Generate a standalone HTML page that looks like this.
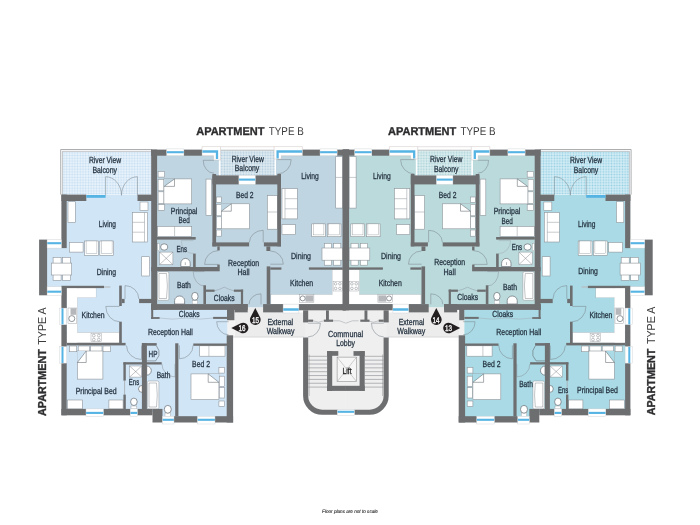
<!DOCTYPE html>
<html><head><meta charset="utf-8"><title>Floor plan</title>
<style>
html,body{margin:0;padding:0;background:#fff;}
body{width:700px;height:525px;overflow:hidden;font-family:"Liberation Sans",sans-serif;}
svg{display:block;font-family:"Liberation Sans",sans-serif;will-change:transform;}
text{text-rendering:geometricPrecision;}
</style></head><body>
<svg width="700" height="525" viewBox="0 0 700 525">
<rect width="700" height="525" fill="#fff"/>
<defs>
<pattern id="tAL" x="62.6" y="151.5" width="2.72" height="2.72" patternUnits="userSpaceOnUse"><rect width="2.72" height="2.72" fill="#f8fcfe"/><rect x="0.39" y="0.39" width="1.94" height="1.94" fill="#c1dcf2"/></pattern>
<pattern id="tBL" x="62.6" y="151.5" width="2.72" height="2.72" patternUnits="userSpaceOnUse"><rect width="2.72" height="2.72" fill="#f3f8fb"/><rect x="0.39" y="0.39" width="1.94" height="1.94" fill="#b0cbdc"/></pattern>
<pattern id="tAR" x="62.6" y="151.5" width="2.72" height="2.72" patternUnits="userSpaceOnUse"><rect width="2.72" height="2.72" fill="#eff9fd"/><rect x="0.39" y="0.39" width="1.94" height="1.94" fill="#93cfe3"/></pattern>
<pattern id="tBR" x="62.6" y="151.5" width="2.72" height="2.72" patternUnits="userSpaceOnUse"><rect width="2.72" height="2.72" fill="#f1f9f9"/><rect x="0.39" y="0.39" width="1.94" height="1.94" fill="#a9d1d7"/></pattern>
</defs>
<g id="left"><path d="M64,194.6 H154 V306 H227.6 V420 H155 V412 H64 V291 H43 V242 H64 Z" fill="#d0e5f6"/>
<path d="M154,152 H345.9 V307.6 H154 Z" fill="#bfd5e1"/>
<rect x="60.30" y="149.10" width="91.70" height="45.50" fill="#fff" />
<rect x="62.60" y="151.50" width="89.40" height="43.10" fill="url(#tAL)" />
<path d="M60.7,194.6 V149.5 H152" fill="none" stroke="#97999c" stroke-width="0.8" />
<path d="M62.4,194.6 V151.3 H152" fill="none" stroke="#9d9fa2" stroke-width="0.6" />
<rect x="218.80" y="146.60" width="57.20" height="29.40" fill="#fff" />
<rect x="220.40" y="150.60" width="54.30" height="25.00" fill="url(#tBL)" />
<line x1="220.40" y1="150.20" x2="274.70" y2="150.20" stroke="#a4a6a9" stroke-width="0.7"/>
<line x1="220.40" y1="146.70" x2="274.20" y2="146.70" stroke="#c3b6b2" stroke-width="0.4"/>
<path d="M234.6,312.4 H247.6 V307.6 H263.2 V312.4 H306 V337 H234.6 Z" fill="#ececec"/><rect x="227.6" y="319.6" width="7.0" height="17.4" fill="#f2f2f2"/>
<line x1="233.00" y1="337.10" x2="304.00" y2="337.10" stroke="#c4c6c8" stroke-width="0.6"/>
<path d="M305,310 H345.9 V413 H322 A16.5,16.5 0 0 1 305,396 Z" fill="#efefef"/>
<path d="M308.1,323 H320.3 A12.2,13.8 0 0 1 308.1,336.8 Z" fill="#efefef"/>
<rect x="66.70" y="288.00" width="29.30" height="9.50" fill="#fff" stroke="#8e949a" stroke-width="0.3"/>
<rect x="66.70" y="288.00" width="10.70" height="54.90" fill="#fff" stroke="#8e949a" stroke-width="0.3"/>
<rect x="66.70" y="332.40" width="52.60" height="10.50" fill="#fff" stroke="#8e949a" stroke-width="0.3"/>
<rect x="67.00" y="288.30" width="10.20" height="54.30" fill="#fff" />
<rect x="67.00" y="288.30" width="28.80" height="9.00" fill="#fff" />
<rect x="271.00" y="294.60" width="72.00" height="9.50" fill="#fff" stroke="#8e949a" stroke-width="0.3"/>
<rect x="332.40" y="269.60" width="10.60" height="34.50" fill="#fff" stroke="#8e949a" stroke-width="0.3"/>
<rect x="332.60" y="269.80" width="10.40" height="34.10" fill="#fff" />
<rect x="271.20" y="294.80" width="71.80" height="9.10" fill="#fff" />
<rect x="68.00" y="201.70" width="7.30" height="20.80" fill="#fff" stroke="#8e949a" stroke-width="0.6"/>
<rect x="132.50" y="212.50" width="15.00" height="29.50" fill="#fff" stroke="#8e949a" stroke-width="0.6"/>
<line x1="144.50" y1="212.50" x2="144.50" y2="242.00" stroke="#8e949a" stroke-width="0.5"/>
<line x1="132.50" y1="222.30" x2="144.50" y2="222.30" stroke="#8e949a" stroke-width="0.5"/>
<line x1="132.50" y1="232.20" x2="144.50" y2="232.20" stroke="#8e949a" stroke-width="0.5"/>
<rect x="140.00" y="202.00" width="8.00" height="8.50" fill="#fff" stroke="#8e949a" stroke-width="0.6"/>
<rect x="69.30" y="242.40" width="13.80" height="9.70" fill="#fff" stroke="#8e949a" stroke-width="0.6"/>
<rect x="84.60" y="241.00" width="13.80" height="14.30" fill="#fff" stroke="#8e949a" stroke-width="0.6"/>
<rect x="86.10" y="241.00" width="10.80" height="12.30" fill="#fff" stroke="#8e949a" stroke-width="0.4"/>
<rect x="99.80" y="241.00" width="13.80" height="14.30" fill="#fff" stroke="#8e949a" stroke-width="0.6"/>
<rect x="101.30" y="241.00" width="10.80" height="12.30" fill="#fff" stroke="#8e949a" stroke-width="0.4"/>
<rect x="53.10" y="257.40" width="8.00" height="6.60" fill="#fff" stroke="#8e949a" stroke-width="0.6"/>
<rect x="53.10" y="274.00" width="8.00" height="6.30" fill="#fff" stroke="#8e949a" stroke-width="0.6"/>
<rect x="62.60" y="257.40" width="8.00" height="6.60" fill="#fff" stroke="#8e949a" stroke-width="0.6"/>
<rect x="62.60" y="274.00" width="8.00" height="6.30" fill="#fff" stroke="#8e949a" stroke-width="0.6"/>
<rect x="51.40" y="263.10" width="20.30" height="11.90" fill="#fff" stroke="#8e949a" stroke-width="0.6"/>
<rect x="141.70" y="256.70" width="7.90" height="19.30" fill="#fff" stroke="#8e949a" stroke-width="0.6"/>
<rect x="70.50" y="308.30" width="5.50" height="6.50" fill="#b5b7ba" />
<rect x="68.00" y="308.00" width="8.80" height="15.50" fill="none" stroke="#8e949a" stroke-width="0.4"/>
<circle cx="71.8" cy="318.6" r="3" fill="#fff" stroke="#646b72" stroke-width="0.7"/>
<rect x="91.00" y="333.40" width="10.70" height="8.20" fill="#fff" stroke="#8e949a" stroke-width="0.4"/>
<circle cx="93.8" cy="335.6" r="1.4" fill="none" stroke="#646b72" stroke-width="0.4"/>
<circle cx="98.8" cy="335.6" r="1.4" fill="none" stroke="#646b72" stroke-width="0.4"/>
<circle cx="93.8" cy="339.6" r="1.4" fill="none" stroke="#646b72" stroke-width="0.4"/>
<circle cx="98.8" cy="339.6" r="1.4" fill="none" stroke="#646b72" stroke-width="0.4"/>
<rect x="69.60" y="346.00" width="7.10" height="5.70" fill="#fff" stroke="#8e949a" stroke-width="0.6"/>
<rect x="103.00" y="346.00" width="7.30" height="5.70" fill="#fff" stroke="#8e949a" stroke-width="0.6"/>
<rect x="78.20" y="346.00" width="11.40" height="5.40" fill="#fff" stroke="#8e949a" stroke-width="0.6"/>
<rect x="90.60" y="346.00" width="11.40" height="5.40" fill="#fff" stroke="#8e949a" stroke-width="0.6"/>
<rect x="77.40" y="351.00" width="25.50" height="28.10" fill="#fff" stroke="#8e949a" stroke-width="0.6"/>
<path d="M77.4,351 H86.2 L77.4,362.5 Z" fill="#d0e5f6" stroke="none" stroke-width="0.5" />
<path d="M77.4,362.5 L86.2,351 M77.4,362.5 H86.2 V351" fill="none" stroke="#6f757b" stroke-width="0.6" />
<rect x="67.40" y="400.00" width="15.00" height="8.90" fill="#fff" stroke="#8e949a" stroke-width="0.6"/>
<rect x="108.90" y="400.00" width="14.20" height="8.90" fill="#fff" stroke="#8e949a" stroke-width="0.6"/>
<rect x="129.60" y="366.00" width="12.10" height="11.10" fill="#fff" stroke="#8e949a" stroke-width="0.5"/>
<path d="M129.6,366 L141.7,377.1 M141.7,366 L129.6,377.1" fill="none" stroke="#646b72" stroke-width="0.4" />
<path d="M142.4,385.3 A3.9,3.6 0 0 0 142.4,392.5 Z" fill="#fff" stroke="#646b72" stroke-width="0.7" />
<rect x="131.00" y="406.00" width="5.80" height="2.90" fill="#fff" stroke="#8e949a" stroke-width="0.4"/>
<ellipse cx="133.9" cy="401.8" rx="3.3" ry="3.7" fill="#fff" stroke="#646b72" stroke-width="0.7"/>
<path d="M146.7,366 A4.6,4.6 0 0 1 146.7,375.2 Z" fill="#fff" stroke="#646b72" stroke-width="0.7" />
<rect x="147.40" y="381.00" width="11.50" height="27.90" fill="#fff" stroke="#8e949a" stroke-width="0.5" rx="1.5"/>
<path d="M149,383 H156.5 Q158,395 156.5,407 H149 Z" fill="#fff" stroke="#646b72" stroke-width="0.4" />
<rect x="165.00" y="413.00" width="5.60" height="3.20" fill="#fff" stroke="#8e949a" stroke-width="0.4"/>
<ellipse cx="167.8" cy="409.3" rx="3.5" ry="3.9" fill="#fff" stroke="#646b72" stroke-width="0.7"/>
<path d="M146.9,345.4 H156.2 L158.9,350.5 V355.8 L155.6,360.9 H146.9" fill="none" stroke="#646b72" stroke-width="0.6" />
<rect x="199.70" y="345.80" width="25.30" height="10.40" fill="#fff" stroke="#8e949a" stroke-width="0.6"/>
<line x1="208.90" y1="345.80" x2="208.90" y2="356.20" stroke="#8e949a" stroke-width="0.5"/>
<rect x="218.90" y="367.40" width="5.70" height="5.70" fill="#fff" stroke="#8e949a" stroke-width="0.6"/>
<rect x="218.90" y="401.00" width="5.70" height="5.30" fill="#fff" stroke="#8e949a" stroke-width="0.6"/>
<rect x="219.20" y="376.20" width="5.40" height="10.40" fill="#fff" stroke="#8e949a" stroke-width="0.6"/>
<rect x="219.20" y="387.60" width="5.40" height="10.40" fill="#fff" stroke="#8e949a" stroke-width="0.6"/>
<rect x="191.00" y="373.90" width="27.90" height="25.70" fill="#fff" stroke="#8e949a" stroke-width="0.6"/>
<path d="M208.2,373.9 H218.9 V382.3 Z" fill="#d0e5f6" stroke="none" stroke-width="0.5" />
<path d="M208.2,373.9 L218.9,382.3 M208.2,373.9 V382.3 H218.9" fill="none" stroke="#6f757b" stroke-width="0.6" />
<rect x="158.10" y="171.40" width="6.50" height="5.70" fill="#fff" stroke="#8e949a" stroke-width="0.6"/>
<rect x="158.10" y="204.60" width="6.50" height="5.70" fill="#fff" stroke="#8e949a" stroke-width="0.6"/>
<rect x="158.10" y="179.30" width="5.90" height="11.50" fill="#fff" stroke="#8e949a" stroke-width="0.6"/>
<rect x="158.10" y="191.80" width="5.90" height="11.70" fill="#fff" stroke="#8e949a" stroke-width="0.6"/>
<rect x="163.90" y="178.90" width="27.80" height="25.00" fill="#fff" stroke="#8e949a" stroke-width="0.6"/>
<path d="M164.2,178.9 H174.5 L164.2,186.4 Z" fill="#bfd5e1" stroke="none" stroke-width="0.5" />
<path d="M164.2,186.4 L174.5,178.9 M164.2,186.4 H174.5 V178.9" fill="none" stroke="#6f757b" stroke-width="0.6" />
<rect x="206.00" y="179.10" width="5.70" height="36.20" fill="#fff" stroke="#8e949a" stroke-width="0.6"/>
<rect x="157.40" y="226.40" width="34.30" height="10.00" fill="#fff" stroke="#8e949a" stroke-width="0.6"/>
<line x1="174.60" y1="226.40" x2="174.60" y2="236.40" stroke="#8e949a" stroke-width="0.5"/>
<rect x="157.30" y="243.40" width="2.30" height="7.40" fill="#fff" stroke="#8e949a" stroke-width="0.4"/>
<ellipse cx="164.2" cy="247" rx="3.6" ry="3.2" fill="#fff" stroke="#646b72" stroke-width="0.7"/>
<rect x="159.60" y="252.10" width="13.30" height="12.50" fill="#fff" stroke="#8e949a" stroke-width="0.5"/>
<path d="M159.6,252.1 L172.9,264.6 M172.9,252.1 L159.6,264.6" fill="none" stroke="#646b72" stroke-width="0.4" />
<path d="M180.8,266.6 V263.4 A4.7,5 0 0 1 190.2,263.4 V266.6 Z" fill="#fff" stroke="#646b72" stroke-width="0.7" />
<line x1="185.30" y1="262.30" x2="185.30" y2="265.00" stroke="#646b72" stroke-width="0.5"/>
<rect x="157.40" y="271.70" width="11.50" height="28.60" fill="#fff" stroke="#8e949a" stroke-width="0.5" rx="1.5"/>
<path d="M159,273.5 H166.5 Q168.3,286 166.5,298.5 H159 Z" fill="#fff" stroke="#646b72" stroke-width="0.4" />
<path d="M174.6,304 V300.6 A5,4.6 0 0 1 184.6,300.6 V304 Z" fill="#fff" stroke="#646b72" stroke-width="0.7" />
<rect x="192.20" y="300.50" width="5.40" height="3.50" fill="#fff" stroke="#8e949a" stroke-width="0.4"/>
<ellipse cx="194.9" cy="296.3" rx="3.2" ry="3.9" fill="#fff" stroke="#646b72" stroke-width="0.7"/>
<rect x="216.30" y="197.00" width="5.00" height="5.50" fill="#fff" stroke="#8e949a" stroke-width="0.6"/>
<rect x="216.30" y="230.00" width="5.00" height="6.20" fill="#fff" stroke="#8e949a" stroke-width="0.6"/>
<rect x="216.30" y="204.30" width="5.00" height="11.50" fill="#fff" stroke="#8e949a" stroke-width="0.6"/>
<rect x="216.30" y="216.80" width="5.00" height="11.50" fill="#fff" stroke="#8e949a" stroke-width="0.6"/>
<rect x="221.30" y="203.80" width="28.00" height="25.00" fill="#fff" stroke="#8e949a" stroke-width="0.6"/>
<path d="M221.3,203.8 H231.3 L221.3,211.2 Z" fill="#bfd5e1" stroke="none" stroke-width="0.5" />
<path d="M221.3,211.2 L231.3,203.8 M221.3,211.2 H231.3 V203.8" fill="none" stroke="#6f757b" stroke-width="0.6" />
<rect x="267.30" y="195.60" width="10.00" height="33.60" fill="#fff" stroke="#8e949a" stroke-width="0.6"/>
<line x1="267.30" y1="212.00" x2="277.30" y2="212.00" stroke="#8e949a" stroke-width="0.5"/>
<rect x="282.00" y="188.60" width="15.40" height="30.30" fill="#fff" stroke="#8e949a" stroke-width="0.6"/>
<line x1="285.00" y1="188.60" x2="285.00" y2="218.90" stroke="#8e949a" stroke-width="0.5"/>
<line x1="285.00" y1="198.70" x2="297.40" y2="198.70" stroke="#8e949a" stroke-width="0.5"/>
<line x1="285.00" y1="208.80" x2="297.40" y2="208.80" stroke="#8e949a" stroke-width="0.5"/>
<rect x="282.00" y="224.60" width="13.30" height="10.00" fill="#fff" stroke="#8e949a" stroke-width="0.6"/>
<rect x="311.70" y="223.90" width="13.70" height="12.80" fill="#fff" stroke="#8e949a" stroke-width="0.6"/>
<rect x="313.20" y="223.90" width="10.70" height="11.00" fill="#fff" stroke="#8e949a" stroke-width="0.4"/>
<rect x="327.30" y="223.90" width="13.70" height="12.80" fill="#fff" stroke="#8e949a" stroke-width="0.6"/>
<rect x="328.80" y="223.90" width="10.70" height="11.00" fill="#fff" stroke="#8e949a" stroke-width="0.4"/>
<rect x="324.30" y="243.30" width="7.20" height="5.70" fill="#fff" stroke="#8e949a" stroke-width="0.6"/>
<rect x="324.30" y="259.30" width="7.20" height="5.90" fill="#fff" stroke="#8e949a" stroke-width="0.6"/>
<rect x="333.60" y="243.30" width="7.20" height="5.70" fill="#fff" stroke="#8e949a" stroke-width="0.6"/>
<rect x="333.60" y="259.30" width="7.20" height="5.90" fill="#fff" stroke="#8e949a" stroke-width="0.6"/>
<rect x="322.00" y="248.00" width="20.70" height="12.20" fill="#fff" stroke="#8e949a" stroke-width="0.6"/>
<rect x="335.70" y="156.70" width="7.00" height="51.40" fill="#fff" stroke="#8e949a" stroke-width="0.6"/>
<line x1="335.70" y1="177.40" x2="342.70" y2="177.40" stroke="#8e949a" stroke-width="0.5"/>
<rect x="333.10" y="281.30" width="9.30" height="9.70" fill="#fff" stroke="#8e949a" stroke-width="0.4"/>
<circle cx="335.6" cy="283.8" r="1.3" fill="none" stroke="#646b72" stroke-width="0.4"/>
<circle cx="339.9" cy="283.8" r="1.3" fill="none" stroke="#646b72" stroke-width="0.4"/>
<circle cx="335.6" cy="288.4" r="1.3" fill="none" stroke="#646b72" stroke-width="0.4"/>
<circle cx="339.9" cy="288.4" r="1.3" fill="none" stroke="#646b72" stroke-width="0.4"/>
<rect x="299.60" y="294.60" width="14.30" height="7.80" fill="#fff" stroke="#8e949a" stroke-width="0.4"/>
<rect x="305.50" y="295.40" width="7.90" height="6.20" fill="#b5b7ba" />
<circle cx="302.7" cy="298.4" r="2.5" fill="#fff" stroke="#646b72" stroke-width="0.7"/>
<path d="M105.60,195.30 L105.60,176.70 A15.90,18.60 0 0 1 121.50,195.30" fill="none" stroke="#7d8790" stroke-width="0.55"/>
<path d="M137.40,195.30 L137.40,176.70 A15.90,18.60 0 0 0 121.50,195.30" fill="none" stroke="#7d8790" stroke-width="0.55"/>
<path d="M125.00,298.90 L125.00,285.60 A13.80,13.30 0 0 1 138.80,298.90" fill="none" stroke="#7d8790" stroke-width="0.55"/>
<path d="M119.50,306.40 L105.80,306.40 A13.70,15.30 0 0 0 119.50,321.70" fill="none" stroke="#7d8790" stroke-width="0.55"/>
<path d="M141.50,345.60 L141.50,359.50 A15.00,13.90 0 0 1 126.50,345.60" fill="none" stroke="#7d8790" stroke-width="0.55"/>
<line x1="124.60" y1="380.60" x2="124.60" y2="394.60" stroke="#a9b0b7" stroke-width="0.9"/>
<path d="M175.00,363.90 L175.00,376.90 A13.10,13.00 0 0 1 161.90,363.90" fill="none" stroke="#8d98a2" stroke-width="0.55"/>
<path d="M179.40,345.30 L179.40,358.80 A13.70,13.50 0 0 0 193.10,345.30" fill="none" stroke="#7d8790" stroke-width="0.55"/>
<path d="M228.60,321.70 L216.70,321.70 A11.90,13.10 0 0 0 228.60,334.80" fill="none" stroke="#7d8790" stroke-width="0.55"/>
<path d="M159.6,318 Q172,320.3 186.3,318 Q200,320.3 213.1,318" fill="none" stroke="#a4adb6" stroke-width="0.5" />
<path d="M214.00,160.30 L203.20,160.30 A10.80,12.90 0 0 0 214.00,173.20" fill="none" stroke="#7d8790" stroke-width="0.55"/>
<path d="M277.40,159.60 L291.20,159.60 A13.80,14.30 0 0 1 277.40,173.90" fill="none" stroke="#7d8790" stroke-width="0.55"/>
<path d="M193.30,240.60 L181.20,240.60 A12.10,13.00 0 0 0 193.30,253.60" fill="none" stroke="#9aa5af" stroke-width="0.45"/>
<path d="M218.40,264.40 L204.60,264.40 A13.80,13.80 0 0 1 218.40,250.60" fill="none" stroke="#7d8790" stroke-width="0.55"/>
<path d="M204.40,271.60 L193.20,271.60 A11.20,14.40 0 0 0 204.40,286.00" fill="none" stroke="#8d98a2" stroke-width="0.55"/>
<path d="M263.20,242.40 L263.20,230.30 A13.80,12.10 0 0 0 249.40,242.40" fill="none" stroke="#7d8790" stroke-width="0.55"/>
<path d="M270.30,264.20 L283.30,264.20 A13.00,13.20 0 0 0 270.30,251.00" fill="none" stroke="#7d8790" stroke-width="0.55"/>
<path d="M214.6,290.8 Q219.5,289.6 224.3,287.2 Q229,289.6 233.9,290.8" fill="none" stroke="#8d98a2" stroke-width="0.5" />
<path d="M261.00,304.40 L261.00,293.80 A12.00,10.60 0 0 0 249.00,304.40" fill="none" stroke="#7d8790" stroke-width="0.55"/>
<path d="M308.10,323.20 L320.40,323.20 A12.30,13.70 0 0 1 308.10,336.90" fill="none" stroke="#7d8790" stroke-width="0.55"/>
<path d="M313.1,320.8 L318.5,322.2 L323.9,320.8" fill="none" stroke="#9a9fa4" stroke-width="0.5" />
<path d="M333.1,320.8 L339.5,320.8 L345.9,323.2" fill="none" stroke="#9a9fa4" stroke-width="0.5" />
<line x1="308.30" y1="356.30" x2="327.10" y2="356.30" stroke="#aaacaf" stroke-width="0.9"/>
<line x1="308.30" y1="360.15" x2="327.10" y2="360.15" stroke="#aaacaf" stroke-width="0.9"/>
<line x1="308.30" y1="364.00" x2="327.10" y2="364.00" stroke="#aaacaf" stroke-width="0.9"/>
<line x1="308.30" y1="367.85" x2="327.10" y2="367.85" stroke="#aaacaf" stroke-width="0.9"/>
<line x1="308.30" y1="371.70" x2="327.10" y2="371.70" stroke="#aaacaf" stroke-width="0.9"/>
<line x1="308.30" y1="375.55" x2="327.10" y2="375.55" stroke="#aaacaf" stroke-width="0.9"/>
<line x1="308.30" y1="379.40" x2="327.10" y2="379.40" stroke="#aaacaf" stroke-width="0.9"/>
<line x1="308.30" y1="383.25" x2="327.10" y2="383.25" stroke="#aaacaf" stroke-width="0.9"/>
<line x1="308.30" y1="387.10" x2="327.10" y2="387.10" stroke="#aaacaf" stroke-width="0.9"/>
<line x1="309.20" y1="354.50" x2="309.20" y2="396.00" stroke="#8b8d90" stroke-width="0.5"/>
<rect x="61.40" y="194.60" width="24.90" height="6.40" fill="#6d6e70" />
<rect x="137.50" y="194.60" width="14.50" height="6.40" fill="#6d6e70" />
<rect x="61.40" y="194.60" width="5.30" height="53.50" fill="#6d6e70" />
<rect x="39.10" y="239.60" width="8.00" height="55.70" fill="#6d6e70" />
<rect x="61.40" y="286.00" width="5.30" height="22.10" fill="#6d6e70" />
<rect x="61.40" y="324.60" width="5.30" height="22.10" fill="#6d6e70" />
<rect x="61.40" y="363.10" width="5.30" height="52.20" fill="#6d6e70" />
<rect x="61.40" y="285.80" width="42.60" height="2.30" fill="#6d6e70" />
<rect x="119.20" y="285.60" width="2.60" height="20.40" fill="#6d6e70" />
<rect x="121.70" y="298.90" width="2.90" height="4.20" fill="#6d6e70" />
<rect x="119.20" y="321.70" width="2.60" height="21.30" fill="#6d6e70" />
<rect x="139.10" y="298.90" width="12.90" height="4.20" fill="#6d6e70" />
<rect x="66.70" y="342.90" width="58.90" height="2.50" fill="#6d6e70" />
<rect x="151.20" y="149.60" width="5.90" height="160.30" fill="#6d6e70" />
<rect x="151.20" y="304.10" width="2.00" height="14.80" fill="#6d6e70" />
<rect x="151.20" y="317.10" width="8.40" height="1.80" fill="#6d6e70" />
<rect x="213.10" y="316.90" width="14.30" height="2.00" fill="#6d6e70" />
<rect x="227.00" y="308.90" width="7.40" height="11.30" fill="#6d6e70" />
<rect x="226.70" y="335.30" width="6.40" height="87.20" fill="#6d6e70" />
<rect x="61.40" y="408.90" width="24.60" height="6.40" fill="#6d6e70" />
<rect x="103.40" y="408.90" width="26.90" height="6.40" fill="#6d6e70" />
<rect x="137.40" y="408.90" width="15.10" height="6.40" fill="#6d6e70" />
<rect x="152.50" y="408.90" width="10.00" height="13.60" fill="#6d6e70" />
<rect x="174.00" y="416.20" width="23.50" height="6.30" fill="#6d6e70" />
<rect x="215.00" y="416.20" width="18.10" height="6.30" fill="#6d6e70" />
<rect x="123.40" y="362.40" width="2.40" height="18.20" fill="#6d6e70" />
<rect x="123.40" y="394.60" width="2.40" height="14.40" fill="#6d6e70" />
<rect x="123.40" y="362.20" width="38.30" height="2.30" fill="#6d6e70" />
<rect x="141.90" y="343.10" width="5.00" height="65.90" fill="#6d6e70" />
<rect x="141.90" y="343.10" width="14.80" height="2.20" fill="#6d6e70" />
<rect x="175.20" y="343.30" width="3.20" height="73.20" fill="#6d6e70" />
<rect x="193.30" y="343.50" width="34.10" height="2.30" fill="#6d6e70" />
<rect x="151.20" y="149.60" width="15.50" height="6.10" fill="#6d6e70" />
<rect x="183.90" y="149.60" width="18.10" height="6.10" fill="#6d6e70" />
<rect x="302.40" y="149.60" width="17.60" height="6.10" fill="#6d6e70" />
<rect x="337.10" y="149.60" width="12.00" height="6.10" fill="#6d6e70" />
<rect x="342.70" y="149.60" width="6.40" height="160.70" fill="#6d6e70" />
<rect x="212.40" y="175.40" width="26.50" height="9.00" fill="#6d6e70" />
<rect x="255.30" y="175.40" width="25.70" height="9.00" fill="#6d6e70" />
<rect x="212.40" y="174.00" width="3.70" height="72.40" fill="#6d6e70" />
<rect x="277.30" y="174.00" width="3.70" height="72.40" fill="#6d6e70" />
<rect x="212.40" y="242.40" width="36.70" height="4.00" fill="#6d6e70" />
<rect x="263.90" y="242.40" width="17.10" height="4.00" fill="#6d6e70" />
<rect x="217.30" y="246.40" width="2.40" height="4.00" fill="#6d6e70" />
<rect x="266.40" y="246.40" width="3.90" height="4.60" fill="#6d6e70" />
<rect x="157.00" y="237.00" width="38.70" height="2.60" fill="#6d6e70" />
<rect x="193.10" y="253.60" width="2.60" height="13.60" fill="#6d6e70" />
<rect x="151.20" y="267.00" width="68.50" height="4.30" fill="#6d6e70" />
<rect x="217.30" y="264.60" width="2.40" height="2.60" fill="#6d6e70" />
<rect x="203.40" y="285.30" width="2.60" height="18.90" fill="#6d6e70" />
<rect x="206.00" y="289.60" width="8.60" height="2.20" fill="#6d6e70" />
<rect x="233.90" y="289.60" width="9.20" height="2.20" fill="#6d6e70" />
<rect x="240.90" y="289.60" width="2.20" height="14.60" fill="#6d6e70" />
<rect x="266.70" y="266.40" width="3.60" height="37.80" fill="#6d6e70" />
<rect x="270.30" y="267.40" width="11.10" height="2.30" fill="#6d6e70" />
<rect x="308.90" y="267.40" width="33.90" height="2.30" fill="#6d6e70" />
<rect x="151.20" y="304.10" width="96.50" height="5.80" fill="#6d6e70" />
<rect x="234.60" y="304.10" width="13.10" height="8.30" fill="#6d6e70" />
<rect x="263.10" y="304.10" width="20.00" height="8.30" fill="#6d6e70" />
<rect x="298.90" y="304.10" width="50.20" height="6.20" fill="#6d6e70" />
<rect x="303.10" y="310.30" width="5.10" height="12.10" fill="#6d6e70" />
<rect x="308.10" y="319.60" width="5.00" height="2.20" fill="#6d6e70" />
<rect x="326.00" y="310.30" width="2.90" height="10.90" fill="#6d6e70" />
<rect x="323.90" y="319.60" width="9.20" height="2.20" fill="#6d6e70" />
<rect x="327.10" y="351.10" width="5.10" height="39.80" fill="#6d6e70" />
<rect x="327.10" y="385.80" width="19.30" height="5.10" fill="#6d6e70" />
<rect x="327.10" y="351.10" width="11.20" height="4.70" fill="#6d6e70" />
<rect x="104.00" y="286.40" width="6.30" height="1.20" fill="#b9bcbf" />
<path d="M305.65,337.4 V395.7 A16.5,16.5 0 0 0 322.15,412.2 H337.4" fill="none" stroke="#6d6e70" stroke-width="5.1"/>
<rect x="166.70" y="148.90" width="17.20" height="6.80" fill="#fff" /><line x1="166.70" y1="152.20" x2="183.90" y2="152.20" stroke="#55b4e4" stroke-width="2.1"/><rect x="166.70" y="148.90" width="17.20" height="6.80" fill="none" stroke="#c9ccd0" stroke-width="0.4"/>
<rect x="320.00" y="148.90" width="17.10" height="6.80" fill="#fff" /><line x1="320.00" y1="152.20" x2="337.10" y2="152.20" stroke="#55b4e4" stroke-width="2.1"/><rect x="320.00" y="148.90" width="17.10" height="6.80" fill="none" stroke="#c9ccd0" stroke-width="0.4"/>
<path d="M202,146.6 H220.5 V160 H213.6 V155.7 H202 Z" fill="#fff" stroke="#c3b6b2" stroke-width="0.4" />
<path d="M202.4,151.5 H217 V159" fill="none" stroke="#55b4e4" stroke-width="2.3" />
<path d="M274.1,146.6 H302.4 V155.7 H281.2 V159 H274.1 Z" fill="#fff" stroke="#c3b6b2" stroke-width="0.4" />
<path d="M302.2,151.5 H277.6 V158.4" fill="none" stroke="#55b4e4" stroke-width="2.3" />
<rect x="238.90" y="175.60" width="16.40" height="8.80" fill="#fff" /><line x1="238.90" y1="179.60" x2="255.30" y2="179.60" stroke="#55b4e4" stroke-width="2.1"/><rect x="238.90" y="175.60" width="16.40" height="8.80" fill="none" stroke="#c9ccd0" stroke-width="0.4"/>
<rect x="86.30" y="195.00" width="19.30" height="2.80" fill="#55b4e4" />
<rect x="47.10" y="239.80" width="14.30" height="8.30" fill="#fff" /><line x1="47.10" y1="243.20" x2="61.40" y2="243.20" stroke="#55b4e4" stroke-width="2.1"/><rect x="47.10" y="239.80" width="14.30" height="8.30" fill="none" stroke="#c9ccd0" stroke-width="0.4"/>
<rect x="47.10" y="286.70" width="14.30" height="8.60" fill="#fff" /><line x1="47.10" y1="291.70" x2="61.40" y2="291.70" stroke="#55b4e4" stroke-width="2.1"/><rect x="47.10" y="286.70" width="14.30" height="8.60" fill="none" stroke="#c9ccd0" stroke-width="0.4"/>
<rect x="59.60" y="308.10" width="7.10" height="16.50" fill="#fff" /><line x1="62.50" y1="308.10" x2="62.50" y2="324.60" stroke="#55b4e4" stroke-width="2.0"/><rect x="59.60" y="308.10" width="7.10" height="16.50" fill="none" stroke="#c9ccd0" stroke-width="0.4"/>
<rect x="59.60" y="346.70" width="7.10" height="16.40" fill="#fff" /><line x1="62.50" y1="346.70" x2="62.50" y2="363.10" stroke="#55b4e4" stroke-width="2.0"/><rect x="59.60" y="346.70" width="7.10" height="16.40" fill="none" stroke="#c9ccd0" stroke-width="0.4"/>
<rect x="86.00" y="408.90" width="17.40" height="7.80" fill="#fff" /><line x1="86.00" y1="412.90" x2="103.40" y2="412.90" stroke="#55b4e4" stroke-width="2.1"/><rect x="86.00" y="408.90" width="17.40" height="7.80" fill="none" stroke="#c9ccd0" stroke-width="0.4"/>
<rect x="130.30" y="408.90" width="7.10" height="7.80" fill="#fff" /><line x1="130.30" y1="412.90" x2="137.40" y2="412.90" stroke="#55b4e4" stroke-width="2.1"/><rect x="130.30" y="408.90" width="7.10" height="7.80" fill="none" stroke="#c9ccd0" stroke-width="0.4"/>
<rect x="162.50" y="416.20" width="11.50" height="7.80" fill="#fff" /><line x1="162.50" y1="419.80" x2="174.00" y2="419.80" stroke="#55b4e4" stroke-width="2.1"/><rect x="162.50" y="416.20" width="11.50" height="7.80" fill="none" stroke="#c9ccd0" stroke-width="0.4"/>
<rect x="197.50" y="416.20" width="17.50" height="7.80" fill="#fff" /><line x1="197.50" y1="419.80" x2="215.00" y2="419.80" stroke="#55b4e4" stroke-width="2.1"/><rect x="197.50" y="416.20" width="17.50" height="7.80" fill="none" stroke="#c9ccd0" stroke-width="0.4"/>
<rect x="283.10" y="304.10" width="15.80" height="8.90" fill="#fff" /><line x1="283.10" y1="309.50" x2="298.90" y2="309.50" stroke="#55b4e4" stroke-width="2.5"/><rect x="283.10" y="304.10" width="15.80" height="8.90" fill="none" stroke="#c9ccd0" stroke-width="0.4"/></g>
<g id="right" transform="translate(691.8,0) scale(-1,1)"><path d="M64,194.6 H154 V306 H227.6 V420 H155 V412 H64 V291 H43 V242 H64 Z" fill="#a9dae5"/>
<path d="M154,152 H345.9 V307.6 H154 Z" fill="#bbdadc"/>
<rect x="60.30" y="149.10" width="91.70" height="45.50" fill="#fff" />
<rect x="62.60" y="151.50" width="89.40" height="43.10" fill="url(#tAR)" />
<path d="M60.7,194.6 V149.5 H152" fill="none" stroke="#97999c" stroke-width="0.8" />
<path d="M62.4,194.6 V151.3 H152" fill="none" stroke="#9d9fa2" stroke-width="0.6" />
<rect x="218.80" y="146.60" width="57.20" height="29.40" fill="#fff" />
<rect x="220.40" y="150.60" width="54.30" height="25.00" fill="url(#tBR)" />
<line x1="220.40" y1="150.20" x2="274.70" y2="150.20" stroke="#a4a6a9" stroke-width="0.7"/>
<line x1="220.40" y1="146.70" x2="274.20" y2="146.70" stroke="#c3b6b2" stroke-width="0.4"/>
<path d="M232.6,312.4 H247.6 V307.6 H263.2 V312.4 H306 V337 H232.6 Z" fill="#ececec"/><rect x="227.6" y="319.6" width="5.0" height="17.4" fill="#f2f2f2"/>
<line x1="233.00" y1="337.10" x2="304.00" y2="337.10" stroke="#c4c6c8" stroke-width="0.6"/>
<path d="M305,310 H345.9 V413 H322 A16.5,16.5 0 0 1 305,396 Z" fill="#efefef"/>
<path d="M308.1,323 H320.3 A12.2,13.8 0 0 1 308.1,336.8 Z" fill="#efefef"/>
<rect x="66.70" y="288.00" width="29.30" height="9.50" fill="#fff" stroke="#8e949a" stroke-width="0.3"/>
<rect x="66.70" y="288.00" width="10.70" height="54.90" fill="#fff" stroke="#8e949a" stroke-width="0.3"/>
<rect x="66.70" y="332.40" width="52.60" height="10.50" fill="#fff" stroke="#8e949a" stroke-width="0.3"/>
<rect x="67.00" y="288.30" width="10.20" height="54.30" fill="#fff" />
<rect x="67.00" y="288.30" width="28.80" height="9.00" fill="#fff" />
<rect x="271.00" y="294.60" width="72.00" height="9.50" fill="#fff" stroke="#8e949a" stroke-width="0.3"/>
<rect x="332.40" y="269.60" width="10.60" height="34.50" fill="#fff" stroke="#8e949a" stroke-width="0.3"/>
<rect x="332.60" y="269.80" width="10.40" height="34.10" fill="#fff" />
<rect x="271.20" y="294.80" width="71.80" height="9.10" fill="#fff" />
<rect x="68.00" y="201.70" width="7.30" height="20.80" fill="#fff" stroke="#8e949a" stroke-width="0.6"/>
<rect x="132.50" y="212.50" width="15.00" height="29.50" fill="#fff" stroke="#8e949a" stroke-width="0.6"/>
<line x1="144.50" y1="212.50" x2="144.50" y2="242.00" stroke="#8e949a" stroke-width="0.5"/>
<line x1="132.50" y1="222.30" x2="144.50" y2="222.30" stroke="#8e949a" stroke-width="0.5"/>
<line x1="132.50" y1="232.20" x2="144.50" y2="232.20" stroke="#8e949a" stroke-width="0.5"/>
<rect x="140.00" y="202.00" width="8.00" height="8.50" fill="#fff" stroke="#8e949a" stroke-width="0.6"/>
<rect x="69.30" y="242.40" width="13.80" height="9.70" fill="#fff" stroke="#8e949a" stroke-width="0.6"/>
<rect x="84.60" y="241.00" width="13.80" height="14.30" fill="#fff" stroke="#8e949a" stroke-width="0.6"/>
<rect x="86.10" y="241.00" width="10.80" height="12.30" fill="#fff" stroke="#8e949a" stroke-width="0.4"/>
<rect x="99.80" y="241.00" width="13.80" height="14.30" fill="#fff" stroke="#8e949a" stroke-width="0.6"/>
<rect x="101.30" y="241.00" width="10.80" height="12.30" fill="#fff" stroke="#8e949a" stroke-width="0.4"/>
<rect x="53.10" y="257.40" width="8.00" height="6.60" fill="#fff" stroke="#8e949a" stroke-width="0.6"/>
<rect x="53.10" y="274.00" width="8.00" height="6.30" fill="#fff" stroke="#8e949a" stroke-width="0.6"/>
<rect x="62.60" y="257.40" width="8.00" height="6.60" fill="#fff" stroke="#8e949a" stroke-width="0.6"/>
<rect x="62.60" y="274.00" width="8.00" height="6.30" fill="#fff" stroke="#8e949a" stroke-width="0.6"/>
<rect x="51.40" y="263.10" width="20.30" height="11.90" fill="#fff" stroke="#8e949a" stroke-width="0.6"/>
<rect x="141.70" y="256.70" width="7.90" height="19.30" fill="#fff" stroke="#8e949a" stroke-width="0.6"/>
<rect x="70.50" y="308.30" width="5.50" height="6.50" fill="#b5b7ba" />
<rect x="68.00" y="308.00" width="8.80" height="15.50" fill="none" stroke="#8e949a" stroke-width="0.4"/>
<circle cx="71.8" cy="318.6" r="3" fill="#fff" stroke="#646b72" stroke-width="0.7"/>
<rect x="91.00" y="333.40" width="10.70" height="8.20" fill="#fff" stroke="#8e949a" stroke-width="0.4"/>
<circle cx="93.8" cy="335.6" r="1.4" fill="none" stroke="#646b72" stroke-width="0.4"/>
<circle cx="98.8" cy="335.6" r="1.4" fill="none" stroke="#646b72" stroke-width="0.4"/>
<circle cx="93.8" cy="339.6" r="1.4" fill="none" stroke="#646b72" stroke-width="0.4"/>
<circle cx="98.8" cy="339.6" r="1.4" fill="none" stroke="#646b72" stroke-width="0.4"/>
<rect x="69.60" y="346.00" width="7.10" height="5.70" fill="#fff" stroke="#8e949a" stroke-width="0.6"/>
<rect x="103.00" y="346.00" width="7.30" height="5.70" fill="#fff" stroke="#8e949a" stroke-width="0.6"/>
<rect x="78.20" y="346.00" width="11.40" height="5.40" fill="#fff" stroke="#8e949a" stroke-width="0.6"/>
<rect x="90.60" y="346.00" width="11.40" height="5.40" fill="#fff" stroke="#8e949a" stroke-width="0.6"/>
<rect x="77.40" y="351.00" width="25.50" height="28.10" fill="#fff" stroke="#8e949a" stroke-width="0.6"/>
<path d="M77.4,351 H86.2 L77.4,362.5 Z" fill="#a9dae5" stroke="none" stroke-width="0.5" />
<path d="M77.4,362.5 L86.2,351 M77.4,362.5 H86.2 V351" fill="none" stroke="#6f757b" stroke-width="0.6" />
<rect x="67.40" y="400.00" width="15.00" height="8.90" fill="#fff" stroke="#8e949a" stroke-width="0.6"/>
<rect x="108.90" y="400.00" width="14.20" height="8.90" fill="#fff" stroke="#8e949a" stroke-width="0.6"/>
<rect x="129.60" y="366.00" width="12.10" height="11.10" fill="#fff" stroke="#8e949a" stroke-width="0.5"/>
<path d="M129.6,366 L141.7,377.1 M141.7,366 L129.6,377.1" fill="none" stroke="#646b72" stroke-width="0.4" />
<path d="M142.4,385.3 A3.9,3.6 0 0 0 142.4,392.5 Z" fill="#fff" stroke="#646b72" stroke-width="0.7" />
<rect x="131.00" y="406.00" width="5.80" height="2.90" fill="#fff" stroke="#8e949a" stroke-width="0.4"/>
<ellipse cx="133.9" cy="401.8" rx="3.3" ry="3.7" fill="#fff" stroke="#646b72" stroke-width="0.7"/>
<path d="M146.7,366 A4.6,4.6 0 0 1 146.7,375.2 Z" fill="#fff" stroke="#646b72" stroke-width="0.7" />
<rect x="147.40" y="381.00" width="11.50" height="27.90" fill="#fff" stroke="#8e949a" stroke-width="0.5" rx="1.5"/>
<path d="M149,383 H156.5 Q158,395 156.5,407 H149 Z" fill="#fff" stroke="#646b72" stroke-width="0.4" />
<rect x="165.00" y="413.00" width="5.60" height="3.20" fill="#fff" stroke="#8e949a" stroke-width="0.4"/>
<ellipse cx="167.8" cy="409.3" rx="3.5" ry="3.9" fill="#fff" stroke="#646b72" stroke-width="0.7"/>
<path d="M146.9,345.4 H156.2 L158.9,350.5 V355.8 L155.6,360.9 H146.9" fill="none" stroke="#646b72" stroke-width="0.6" />
<rect x="199.70" y="345.80" width="25.30" height="10.40" fill="#fff" stroke="#8e949a" stroke-width="0.6"/>
<line x1="208.90" y1="345.80" x2="208.90" y2="356.20" stroke="#8e949a" stroke-width="0.5"/>
<rect x="218.90" y="367.40" width="5.70" height="5.70" fill="#fff" stroke="#8e949a" stroke-width="0.6"/>
<rect x="218.90" y="401.00" width="5.70" height="5.30" fill="#fff" stroke="#8e949a" stroke-width="0.6"/>
<rect x="219.20" y="376.20" width="5.40" height="10.40" fill="#fff" stroke="#8e949a" stroke-width="0.6"/>
<rect x="219.20" y="387.60" width="5.40" height="10.40" fill="#fff" stroke="#8e949a" stroke-width="0.6"/>
<rect x="191.00" y="373.90" width="27.90" height="25.70" fill="#fff" stroke="#8e949a" stroke-width="0.6"/>
<path d="M208.2,373.9 H218.9 V382.3 Z" fill="#a9dae5" stroke="none" stroke-width="0.5" />
<path d="M208.2,373.9 L218.9,382.3 M208.2,373.9 V382.3 H218.9" fill="none" stroke="#6f757b" stroke-width="0.6" />
<rect x="158.10" y="171.40" width="6.50" height="5.70" fill="#fff" stroke="#8e949a" stroke-width="0.6"/>
<rect x="158.10" y="204.60" width="6.50" height="5.70" fill="#fff" stroke="#8e949a" stroke-width="0.6"/>
<rect x="158.10" y="179.30" width="5.90" height="11.50" fill="#fff" stroke="#8e949a" stroke-width="0.6"/>
<rect x="158.10" y="191.80" width="5.90" height="11.70" fill="#fff" stroke="#8e949a" stroke-width="0.6"/>
<rect x="163.90" y="178.90" width="27.80" height="25.00" fill="#fff" stroke="#8e949a" stroke-width="0.6"/>
<path d="M164.2,178.9 H174.5 L164.2,186.4 Z" fill="#bbdadc" stroke="none" stroke-width="0.5" />
<path d="M164.2,186.4 L174.5,178.9 M164.2,186.4 H174.5 V178.9" fill="none" stroke="#6f757b" stroke-width="0.6" />
<rect x="206.00" y="179.10" width="5.70" height="36.20" fill="#fff" stroke="#8e949a" stroke-width="0.6"/>
<rect x="157.40" y="226.40" width="34.30" height="10.00" fill="#fff" stroke="#8e949a" stroke-width="0.6"/>
<line x1="174.60" y1="226.40" x2="174.60" y2="236.40" stroke="#8e949a" stroke-width="0.5"/>
<rect x="157.30" y="243.40" width="2.30" height="7.40" fill="#fff" stroke="#8e949a" stroke-width="0.4"/>
<ellipse cx="164.2" cy="247" rx="3.6" ry="3.2" fill="#fff" stroke="#646b72" stroke-width="0.7"/>
<rect x="159.60" y="252.10" width="13.30" height="12.50" fill="#fff" stroke="#8e949a" stroke-width="0.5"/>
<path d="M159.6,252.1 L172.9,264.6 M172.9,252.1 L159.6,264.6" fill="none" stroke="#646b72" stroke-width="0.4" />
<path d="M180.8,266.6 V263.4 A4.7,5 0 0 1 190.2,263.4 V266.6 Z" fill="#fff" stroke="#646b72" stroke-width="0.7" />
<line x1="185.30" y1="262.30" x2="185.30" y2="265.00" stroke="#646b72" stroke-width="0.5"/>
<rect x="157.40" y="271.70" width="11.50" height="28.60" fill="#fff" stroke="#8e949a" stroke-width="0.5" rx="1.5"/>
<path d="M159,273.5 H166.5 Q168.3,286 166.5,298.5 H159 Z" fill="#fff" stroke="#646b72" stroke-width="0.4" />
<path d="M174.6,304 V300.6 A5,4.6 0 0 1 184.6,300.6 V304 Z" fill="#fff" stroke="#646b72" stroke-width="0.7" />
<rect x="192.20" y="300.50" width="5.40" height="3.50" fill="#fff" stroke="#8e949a" stroke-width="0.4"/>
<ellipse cx="194.9" cy="296.3" rx="3.2" ry="3.9" fill="#fff" stroke="#646b72" stroke-width="0.7"/>
<rect x="216.30" y="197.00" width="5.00" height="5.50" fill="#fff" stroke="#8e949a" stroke-width="0.6"/>
<rect x="216.30" y="230.00" width="5.00" height="6.20" fill="#fff" stroke="#8e949a" stroke-width="0.6"/>
<rect x="216.30" y="204.30" width="5.00" height="11.50" fill="#fff" stroke="#8e949a" stroke-width="0.6"/>
<rect x="216.30" y="216.80" width="5.00" height="11.50" fill="#fff" stroke="#8e949a" stroke-width="0.6"/>
<rect x="221.30" y="203.80" width="28.00" height="25.00" fill="#fff" stroke="#8e949a" stroke-width="0.6"/>
<path d="M221.3,203.8 H231.3 L221.3,211.2 Z" fill="#bbdadc" stroke="none" stroke-width="0.5" />
<path d="M221.3,211.2 L231.3,203.8 M221.3,211.2 H231.3 V203.8" fill="none" stroke="#6f757b" stroke-width="0.6" />
<rect x="267.30" y="195.60" width="10.00" height="33.60" fill="#fff" stroke="#8e949a" stroke-width="0.6"/>
<line x1="267.30" y1="212.00" x2="277.30" y2="212.00" stroke="#8e949a" stroke-width="0.5"/>
<rect x="282.00" y="188.60" width="15.40" height="30.30" fill="#fff" stroke="#8e949a" stroke-width="0.6"/>
<line x1="285.00" y1="188.60" x2="285.00" y2="218.90" stroke="#8e949a" stroke-width="0.5"/>
<line x1="285.00" y1="198.70" x2="297.40" y2="198.70" stroke="#8e949a" stroke-width="0.5"/>
<line x1="285.00" y1="208.80" x2="297.40" y2="208.80" stroke="#8e949a" stroke-width="0.5"/>
<rect x="282.00" y="224.60" width="13.30" height="10.00" fill="#fff" stroke="#8e949a" stroke-width="0.6"/>
<rect x="311.70" y="223.90" width="13.70" height="12.80" fill="#fff" stroke="#8e949a" stroke-width="0.6"/>
<rect x="313.20" y="223.90" width="10.70" height="11.00" fill="#fff" stroke="#8e949a" stroke-width="0.4"/>
<rect x="327.30" y="223.90" width="13.70" height="12.80" fill="#fff" stroke="#8e949a" stroke-width="0.6"/>
<rect x="328.80" y="223.90" width="10.70" height="11.00" fill="#fff" stroke="#8e949a" stroke-width="0.4"/>
<rect x="324.30" y="243.30" width="7.20" height="5.70" fill="#fff" stroke="#8e949a" stroke-width="0.6"/>
<rect x="324.30" y="259.30" width="7.20" height="5.90" fill="#fff" stroke="#8e949a" stroke-width="0.6"/>
<rect x="333.60" y="243.30" width="7.20" height="5.70" fill="#fff" stroke="#8e949a" stroke-width="0.6"/>
<rect x="333.60" y="259.30" width="7.20" height="5.90" fill="#fff" stroke="#8e949a" stroke-width="0.6"/>
<rect x="322.00" y="248.00" width="20.70" height="12.20" fill="#fff" stroke="#8e949a" stroke-width="0.6"/>
<rect x="335.70" y="156.70" width="7.00" height="51.40" fill="#fff" stroke="#8e949a" stroke-width="0.6"/>
<line x1="335.70" y1="177.40" x2="342.70" y2="177.40" stroke="#8e949a" stroke-width="0.5"/>
<rect x="333.10" y="281.30" width="9.30" height="9.70" fill="#fff" stroke="#8e949a" stroke-width="0.4"/>
<circle cx="335.6" cy="283.8" r="1.3" fill="none" stroke="#646b72" stroke-width="0.4"/>
<circle cx="339.9" cy="283.8" r="1.3" fill="none" stroke="#646b72" stroke-width="0.4"/>
<circle cx="335.6" cy="288.4" r="1.3" fill="none" stroke="#646b72" stroke-width="0.4"/>
<circle cx="339.9" cy="288.4" r="1.3" fill="none" stroke="#646b72" stroke-width="0.4"/>
<rect x="299.60" y="294.60" width="14.30" height="7.80" fill="#fff" stroke="#8e949a" stroke-width="0.4"/>
<rect x="305.50" y="295.40" width="7.90" height="6.20" fill="#b5b7ba" />
<circle cx="302.7" cy="298.4" r="2.5" fill="#fff" stroke="#646b72" stroke-width="0.7"/>
<path d="M105.60,195.30 L105.60,176.70 A15.90,18.60 0 0 1 121.50,195.30" fill="none" stroke="#7d8790" stroke-width="0.55"/>
<path d="M137.40,195.30 L137.40,176.70 A15.90,18.60 0 0 0 121.50,195.30" fill="none" stroke="#7d8790" stroke-width="0.55"/>
<path d="M125.00,298.90 L125.00,285.60 A13.80,13.30 0 0 1 138.80,298.90" fill="none" stroke="#7d8790" stroke-width="0.55"/>
<path d="M119.50,306.40 L105.80,306.40 A13.70,15.30 0 0 0 119.50,321.70" fill="none" stroke="#7d8790" stroke-width="0.55"/>
<path d="M141.50,345.60 L141.50,359.50 A15.00,13.90 0 0 1 126.50,345.60" fill="none" stroke="#7d8790" stroke-width="0.55"/>
<line x1="124.60" y1="380.60" x2="124.60" y2="394.60" stroke="#a9b0b7" stroke-width="0.9"/>
<path d="M175.00,363.90 L175.00,376.90 A13.10,13.00 0 0 1 161.90,363.90" fill="none" stroke="#8d98a2" stroke-width="0.55"/>
<path d="M179.40,345.30 L179.40,358.80 A13.70,13.50 0 0 0 193.10,345.30" fill="none" stroke="#7d8790" stroke-width="0.55"/>
<path d="M228.60,321.70 L216.70,321.70 A11.90,13.10 0 0 0 228.60,334.80" fill="none" stroke="#7d8790" stroke-width="0.55"/>
<path d="M159.6,318 Q172,320.3 186.3,318 Q200,320.3 213.1,318" fill="none" stroke="#a4adb6" stroke-width="0.5" />
<path d="M214.00,160.30 L203.20,160.30 A10.80,12.90 0 0 0 214.00,173.20" fill="none" stroke="#7d8790" stroke-width="0.55"/>
<path d="M277.40,159.60 L291.20,159.60 A13.80,14.30 0 0 1 277.40,173.90" fill="none" stroke="#7d8790" stroke-width="0.55"/>
<path d="M193.30,240.60 L181.20,240.60 A12.10,13.00 0 0 0 193.30,253.60" fill="none" stroke="#9aa5af" stroke-width="0.45"/>
<path d="M218.40,264.40 L204.60,264.40 A13.80,13.80 0 0 1 218.40,250.60" fill="none" stroke="#7d8790" stroke-width="0.55"/>
<path d="M204.40,271.60 L193.20,271.60 A11.20,14.40 0 0 0 204.40,286.00" fill="none" stroke="#8d98a2" stroke-width="0.55"/>
<path d="M263.20,242.40 L263.20,230.30 A13.80,12.10 0 0 0 249.40,242.40" fill="none" stroke="#7d8790" stroke-width="0.55"/>
<path d="M270.30,264.20 L283.30,264.20 A13.00,13.20 0 0 0 270.30,251.00" fill="none" stroke="#7d8790" stroke-width="0.55"/>
<path d="M214.6,290.8 Q219.5,289.6 224.3,287.2 Q229,289.6 233.9,290.8" fill="none" stroke="#8d98a2" stroke-width="0.5" />
<path d="M261.00,304.40 L261.00,293.80 A12.00,10.60 0 0 0 249.00,304.40" fill="none" stroke="#7d8790" stroke-width="0.55"/>
<path d="M308.10,323.20 L320.40,323.20 A12.30,13.70 0 0 1 308.10,336.90" fill="none" stroke="#7d8790" stroke-width="0.55"/>
<path d="M313.1,320.8 L318.5,322.2 L323.9,320.8" fill="none" stroke="#9a9fa4" stroke-width="0.5" />
<path d="M333.1,320.8 L339.5,320.8 L345.9,323.2" fill="none" stroke="#9a9fa4" stroke-width="0.5" />
<line x1="308.30" y1="356.30" x2="327.10" y2="356.30" stroke="#aaacaf" stroke-width="0.9"/>
<line x1="308.30" y1="360.15" x2="327.10" y2="360.15" stroke="#aaacaf" stroke-width="0.9"/>
<line x1="308.30" y1="364.00" x2="327.10" y2="364.00" stroke="#aaacaf" stroke-width="0.9"/>
<line x1="308.30" y1="367.85" x2="327.10" y2="367.85" stroke="#aaacaf" stroke-width="0.9"/>
<line x1="308.30" y1="371.70" x2="327.10" y2="371.70" stroke="#aaacaf" stroke-width="0.9"/>
<line x1="308.30" y1="375.55" x2="327.10" y2="375.55" stroke="#aaacaf" stroke-width="0.9"/>
<line x1="308.30" y1="379.40" x2="327.10" y2="379.40" stroke="#aaacaf" stroke-width="0.9"/>
<line x1="308.30" y1="383.25" x2="327.10" y2="383.25" stroke="#aaacaf" stroke-width="0.9"/>
<line x1="308.30" y1="387.10" x2="327.10" y2="387.10" stroke="#aaacaf" stroke-width="0.9"/>
<line x1="309.20" y1="354.50" x2="309.20" y2="396.00" stroke="#8b8d90" stroke-width="0.5"/>
<rect x="61.40" y="194.60" width="24.90" height="6.40" fill="#6d6e70" />
<rect x="137.50" y="194.60" width="14.50" height="6.40" fill="#6d6e70" />
<rect x="61.40" y="194.60" width="5.30" height="53.50" fill="#6d6e70" />
<rect x="39.10" y="239.60" width="8.00" height="55.70" fill="#6d6e70" />
<rect x="61.40" y="286.00" width="5.30" height="22.10" fill="#6d6e70" />
<rect x="61.40" y="324.60" width="5.30" height="22.10" fill="#6d6e70" />
<rect x="61.40" y="363.10" width="5.30" height="52.20" fill="#6d6e70" />
<rect x="61.40" y="285.80" width="42.60" height="2.30" fill="#6d6e70" />
<rect x="119.20" y="285.60" width="2.60" height="20.40" fill="#6d6e70" />
<rect x="121.70" y="298.90" width="2.90" height="4.20" fill="#6d6e70" />
<rect x="119.20" y="321.70" width="2.60" height="21.30" fill="#6d6e70" />
<rect x="139.10" y="298.90" width="12.90" height="4.20" fill="#6d6e70" />
<rect x="66.70" y="342.90" width="58.90" height="2.50" fill="#6d6e70" />
<rect x="151.20" y="149.60" width="5.90" height="160.30" fill="#6d6e70" />
<rect x="151.20" y="304.10" width="2.00" height="14.80" fill="#6d6e70" />
<rect x="151.20" y="317.10" width="8.40" height="1.80" fill="#6d6e70" />
<rect x="213.10" y="316.90" width="14.30" height="2.00" fill="#6d6e70" />
<rect x="227.50" y="308.90" width="5.10" height="11.30" fill="#6d6e70" />
<rect x="226.70" y="335.30" width="6.40" height="87.20" fill="#6d6e70" />
<rect x="61.40" y="408.90" width="24.60" height="6.40" fill="#6d6e70" />
<rect x="103.40" y="408.90" width="26.90" height="6.40" fill="#6d6e70" />
<rect x="137.40" y="408.90" width="15.10" height="6.40" fill="#6d6e70" />
<rect x="152.50" y="408.90" width="10.00" height="13.60" fill="#6d6e70" />
<rect x="174.00" y="416.20" width="23.50" height="6.30" fill="#6d6e70" />
<rect x="215.00" y="416.20" width="18.10" height="6.30" fill="#6d6e70" />
<rect x="123.40" y="362.40" width="2.40" height="18.20" fill="#6d6e70" />
<rect x="123.40" y="394.60" width="2.40" height="14.40" fill="#6d6e70" />
<rect x="123.40" y="362.20" width="38.30" height="2.30" fill="#6d6e70" />
<rect x="141.90" y="343.10" width="5.00" height="65.90" fill="#6d6e70" />
<rect x="141.90" y="343.10" width="14.80" height="2.20" fill="#6d6e70" />
<rect x="175.20" y="343.30" width="3.20" height="73.20" fill="#6d6e70" />
<rect x="193.30" y="343.50" width="34.10" height="2.30" fill="#6d6e70" />
<rect x="151.20" y="149.60" width="15.50" height="6.10" fill="#6d6e70" />
<rect x="183.90" y="149.60" width="18.10" height="6.10" fill="#6d6e70" />
<rect x="302.40" y="149.60" width="17.60" height="6.10" fill="#6d6e70" />
<rect x="337.10" y="149.60" width="12.00" height="6.10" fill="#6d6e70" />
<rect x="342.70" y="149.60" width="6.40" height="160.70" fill="#6d6e70" />
<rect x="212.40" y="175.40" width="26.50" height="9.00" fill="#6d6e70" />
<rect x="255.30" y="175.40" width="25.70" height="9.00" fill="#6d6e70" />
<rect x="212.40" y="174.00" width="3.70" height="72.40" fill="#6d6e70" />
<rect x="277.30" y="174.00" width="3.70" height="72.40" fill="#6d6e70" />
<rect x="212.40" y="242.40" width="36.70" height="4.00" fill="#6d6e70" />
<rect x="263.90" y="242.40" width="17.10" height="4.00" fill="#6d6e70" />
<rect x="217.30" y="246.40" width="2.40" height="4.00" fill="#6d6e70" />
<rect x="266.40" y="246.40" width="3.90" height="4.60" fill="#6d6e70" />
<rect x="157.00" y="237.00" width="38.70" height="2.60" fill="#6d6e70" />
<rect x="193.10" y="253.60" width="2.60" height="13.60" fill="#6d6e70" />
<rect x="151.20" y="267.00" width="68.50" height="4.30" fill="#6d6e70" />
<rect x="217.30" y="264.60" width="2.40" height="2.60" fill="#6d6e70" />
<rect x="203.40" y="285.30" width="2.60" height="18.90" fill="#6d6e70" />
<rect x="206.00" y="289.60" width="8.60" height="2.20" fill="#6d6e70" />
<rect x="233.90" y="289.60" width="9.20" height="2.20" fill="#6d6e70" />
<rect x="240.90" y="289.60" width="2.20" height="14.60" fill="#6d6e70" />
<rect x="266.70" y="266.40" width="3.60" height="37.80" fill="#6d6e70" />
<rect x="270.30" y="267.40" width="11.10" height="2.30" fill="#6d6e70" />
<rect x="308.90" y="267.40" width="33.90" height="2.30" fill="#6d6e70" />
<rect x="151.20" y="304.10" width="96.50" height="5.80" fill="#6d6e70" />
<rect x="234.60" y="304.10" width="13.10" height="8.30" fill="#6d6e70" />
<rect x="263.10" y="304.10" width="20.00" height="8.30" fill="#6d6e70" />
<rect x="298.90" y="304.10" width="50.20" height="6.20" fill="#6d6e70" />
<rect x="303.10" y="310.30" width="5.10" height="12.10" fill="#6d6e70" />
<rect x="308.10" y="319.60" width="5.00" height="2.20" fill="#6d6e70" />
<rect x="324.40" y="310.30" width="2.90" height="10.90" fill="#6d6e70" />
<rect x="322.30" y="319.60" width="9.20" height="2.20" fill="#6d6e70" />
<rect x="327.10" y="351.10" width="5.10" height="39.80" fill="#6d6e70" />
<rect x="327.10" y="385.80" width="19.30" height="5.10" fill="#6d6e70" />
<rect x="327.10" y="351.10" width="11.20" height="4.70" fill="#6d6e70" />
<rect x="104.00" y="286.40" width="6.30" height="1.20" fill="#b9bcbf" />
<path d="M305.65,337.4 V395.7 A16.5,16.5 0 0 0 322.15,412.2 H337.4" fill="none" stroke="#6d6e70" stroke-width="5.1"/>
<rect x="166.70" y="148.90" width="17.20" height="6.80" fill="#fff" /><line x1="166.70" y1="152.20" x2="183.90" y2="152.20" stroke="#55b4e4" stroke-width="2.1"/><rect x="166.70" y="148.90" width="17.20" height="6.80" fill="none" stroke="#c9ccd0" stroke-width="0.4"/>
<rect x="320.00" y="148.90" width="17.10" height="6.80" fill="#fff" /><line x1="320.00" y1="152.20" x2="337.10" y2="152.20" stroke="#55b4e4" stroke-width="2.1"/><rect x="320.00" y="148.90" width="17.10" height="6.80" fill="none" stroke="#c9ccd0" stroke-width="0.4"/>
<path d="M202,146.6 H220.5 V160 H213.6 V155.7 H202 Z" fill="#fff" stroke="#c3b6b2" stroke-width="0.4" />
<path d="M202.4,151.5 H217 V159" fill="none" stroke="#55b4e4" stroke-width="2.3" />
<path d="M274.1,146.6 H302.4 V155.7 H281.2 V159 H274.1 Z" fill="#fff" stroke="#c3b6b2" stroke-width="0.4" />
<path d="M302.2,151.5 H277.6 V158.4" fill="none" stroke="#55b4e4" stroke-width="2.3" />
<rect x="238.90" y="175.60" width="16.40" height="8.80" fill="#fff" /><line x1="238.90" y1="179.60" x2="255.30" y2="179.60" stroke="#55b4e4" stroke-width="2.1"/><rect x="238.90" y="175.60" width="16.40" height="8.80" fill="none" stroke="#c9ccd0" stroke-width="0.4"/>
<rect x="86.30" y="195.00" width="19.30" height="2.80" fill="#55b4e4" />
<rect x="47.10" y="239.80" width="14.30" height="8.30" fill="#fff" /><line x1="47.10" y1="243.20" x2="61.40" y2="243.20" stroke="#55b4e4" stroke-width="2.1"/><rect x="47.10" y="239.80" width="14.30" height="8.30" fill="none" stroke="#c9ccd0" stroke-width="0.4"/>
<rect x="47.10" y="286.70" width="14.30" height="8.60" fill="#fff" /><line x1="47.10" y1="291.70" x2="61.40" y2="291.70" stroke="#55b4e4" stroke-width="2.1"/><rect x="47.10" y="286.70" width="14.30" height="8.60" fill="none" stroke="#c9ccd0" stroke-width="0.4"/>
<rect x="59.60" y="308.10" width="7.10" height="16.50" fill="#fff" /><line x1="62.50" y1="308.10" x2="62.50" y2="324.60" stroke="#55b4e4" stroke-width="2.0"/><rect x="59.60" y="308.10" width="7.10" height="16.50" fill="none" stroke="#c9ccd0" stroke-width="0.4"/>
<rect x="59.60" y="346.70" width="7.10" height="16.40" fill="#fff" /><line x1="62.50" y1="346.70" x2="62.50" y2="363.10" stroke="#55b4e4" stroke-width="2.0"/><rect x="59.60" y="346.70" width="7.10" height="16.40" fill="none" stroke="#c9ccd0" stroke-width="0.4"/>
<rect x="86.00" y="408.90" width="17.40" height="7.80" fill="#fff" /><line x1="86.00" y1="412.90" x2="103.40" y2="412.90" stroke="#55b4e4" stroke-width="2.1"/><rect x="86.00" y="408.90" width="17.40" height="7.80" fill="none" stroke="#c9ccd0" stroke-width="0.4"/>
<rect x="130.30" y="408.90" width="7.10" height="7.80" fill="#fff" /><line x1="130.30" y1="412.90" x2="137.40" y2="412.90" stroke="#55b4e4" stroke-width="2.1"/><rect x="130.30" y="408.90" width="7.10" height="7.80" fill="none" stroke="#c9ccd0" stroke-width="0.4"/>
<rect x="162.50" y="416.20" width="11.50" height="7.80" fill="#fff" /><line x1="162.50" y1="419.80" x2="174.00" y2="419.80" stroke="#55b4e4" stroke-width="2.1"/><rect x="162.50" y="416.20" width="11.50" height="7.80" fill="none" stroke="#c9ccd0" stroke-width="0.4"/>
<rect x="197.50" y="416.20" width="17.50" height="7.80" fill="#fff" /><line x1="197.50" y1="419.80" x2="215.00" y2="419.80" stroke="#55b4e4" stroke-width="2.1"/><rect x="197.50" y="416.20" width="17.50" height="7.80" fill="none" stroke="#c9ccd0" stroke-width="0.4"/>
<rect x="283.10" y="304.10" width="15.80" height="8.90" fill="#fff" /><line x1="283.10" y1="309.50" x2="298.90" y2="309.50" stroke="#55b4e4" stroke-width="2.5"/><rect x="283.10" y="304.10" width="15.80" height="8.90" fill="none" stroke="#c9ccd0" stroke-width="0.4"/></g>
<rect x="337.40" y="409.60" width="17.00" height="5.80" fill="#fff" /><line x1="337.40" y1="411.80" x2="354.40" y2="411.80" stroke="#55b4e4" stroke-width="2.1"/><rect x="337.40" y="409.60" width="17.00" height="5.80" fill="none" stroke="#c9ccd0" stroke-width="0.4"/>
<rect x="337.10" y="357.10" width="19.50" height="24.60" fill="#f6f6f6" stroke="#7c7e81" stroke-width="0.5"/>
<path d="M337.1,357.1 L356.6,381.7 M356.6,357.1 L337.1,381.7" fill="none" stroke="#8a8c8f" stroke-width="0.4" />
<path d="M255.30,308.00 L260.06,317.25 A5.35,5.35 0 1 1 250.54,317.25 Z" fill="#231f20"/>
<path d="M231.30,327.90 L240.76,323.24 A5.3,5.3 0 1 1 240.68,332.72 Z" fill="#231f20"/>
<path d="M436.30,308.10 L441.05,317.23 A5.35,5.35 0 1 1 431.55,317.23 Z" fill="#231f20"/>
<path d="M460.20,328.00 L450.90,332.73 A5.3,5.3 0 1 1 450.90,323.27 Z" fill="#231f20"/>
<text x="255.5" y="322.8" font-size="8.2" text-anchor="middle" fill="#fff" stroke="#fff" stroke-width="0.32" textLength="7.0" lengthAdjust="spacingAndGlyphs">15</text>
<text x="241.9" y="330.9" font-size="8.2" text-anchor="middle" fill="#fff" stroke="#fff" stroke-width="0.32" textLength="7.0" lengthAdjust="spacingAndGlyphs">16</text>
<text x="435.9" y="322.8" font-size="8.2" text-anchor="middle" fill="#fff" stroke="#fff" stroke-width="0.32" textLength="7.0" lengthAdjust="spacingAndGlyphs">14</text>
<text x="448.6" y="330.9" font-size="8.2" text-anchor="middle" fill="#fff" stroke="#fff" stroke-width="0.32" textLength="7.0" lengthAdjust="spacingAndGlyphs">13</text>
<g id="labels">
<text x="105.0" y="163.4" font-size="8.8" text-anchor="middle" font-weight="normal" fill="#263442" stroke="#263442" stroke-width="0.28" textLength="32.2" lengthAdjust="spacingAndGlyphs" >River View</text>
<text x="104.7" y="172.6" font-size="8.8" text-anchor="middle" font-weight="normal" fill="#263442" stroke="#263442" stroke-width="0.28" textLength="24.6" lengthAdjust="spacingAndGlyphs" >Balcony</text>
<text x="247.8" y="161.7" font-size="8.8" text-anchor="middle" font-weight="normal" fill="#263442" stroke="#263442" stroke-width="0.28" textLength="32.2" lengthAdjust="spacingAndGlyphs" >River View</text>
<text x="247.0" y="171.3" font-size="8.8" text-anchor="middle" font-weight="normal" fill="#263442" stroke="#263442" stroke-width="0.28" textLength="24.6" lengthAdjust="spacingAndGlyphs" >Balcony</text>
<text x="107.4" y="227.0" font-size="8.8" text-anchor="middle" font-weight="normal" fill="#263442" stroke="#263442" stroke-width="0.28" textLength="17.3" lengthAdjust="spacingAndGlyphs" >Living</text>
<text x="106.4" y="274.5" font-size="8.8" text-anchor="middle" font-weight="normal" fill="#263442" stroke="#263442" stroke-width="0.28" textLength="19.5" lengthAdjust="spacingAndGlyphs" >Dining</text>
<text x="184.1" y="213.7" font-size="8.8" text-anchor="middle" font-weight="normal" fill="#263442" stroke="#263442" stroke-width="0.28" textLength="26.6" lengthAdjust="spacingAndGlyphs" >Principal</text>
<text x="184.2" y="223.0" font-size="8.8" text-anchor="middle" font-weight="normal" fill="#263442" stroke="#263442" stroke-width="0.28" textLength="11.3" lengthAdjust="spacingAndGlyphs" >Bed</text>
<text x="244.8" y="197.5" font-size="8.8" text-anchor="middle" font-weight="normal" fill="#263442" stroke="#263442" stroke-width="0.28" textLength="17.6" lengthAdjust="spacingAndGlyphs" >Bed 2</text>
<text x="310.0" y="178.6" font-size="8.8" text-anchor="middle" font-weight="normal" fill="#263442" stroke="#263442" stroke-width="0.28" textLength="17.6" lengthAdjust="spacingAndGlyphs" >Living</text>
<text x="301.0" y="258.9" font-size="8.8" text-anchor="middle" font-weight="normal" fill="#263442" stroke="#263442" stroke-width="0.28" textLength="20.0" lengthAdjust="spacingAndGlyphs" >Dining</text>
<text x="181.8" y="251.7" font-size="8.8" text-anchor="middle" font-weight="normal" fill="#263442" stroke="#263442" stroke-width="0.28" textLength="10.5" lengthAdjust="spacingAndGlyphs" >Ens</text>
<text x="183.9" y="287.9" font-size="8.8" text-anchor="middle" font-weight="normal" fill="#263442" stroke="#263442" stroke-width="0.28" textLength="14.0" lengthAdjust="spacingAndGlyphs" >Bath</text>
<text x="243.6" y="265.6" font-size="8.8" text-anchor="middle" font-weight="normal" fill="#263442" stroke="#263442" stroke-width="0.28" textLength="31.0" lengthAdjust="spacingAndGlyphs" >Reception</text>
<text x="243.5" y="275.0" font-size="8.8" text-anchor="middle" font-weight="normal" fill="#263442" stroke="#263442" stroke-width="0.28" textLength="12.2" lengthAdjust="spacingAndGlyphs" >Hall</text>
<text x="224.2" y="300.7" font-size="8.8" text-anchor="middle" font-weight="normal" fill="#263442" stroke="#263442" stroke-width="0.28" textLength="20.7" lengthAdjust="spacingAndGlyphs" >Cloaks</text>
<text x="301.6" y="286.0" font-size="8.8" text-anchor="middle" font-weight="normal" fill="#263442" stroke="#263442" stroke-width="0.28" textLength="23.1" lengthAdjust="spacingAndGlyphs" >Kitchen</text>
<text x="93.1" y="318.1" font-size="8.8" text-anchor="middle" font-weight="normal" fill="#263442" stroke="#263442" stroke-width="0.28" textLength="23.0" lengthAdjust="spacingAndGlyphs" >Kitchen</text>
<text x="189.2" y="317.0" font-size="8.8" text-anchor="middle" font-weight="normal" fill="#263442" stroke="#263442" stroke-width="0.28" textLength="20.7" lengthAdjust="spacingAndGlyphs" >Cloaks</text>
<text x="170.4" y="334.6" font-size="8.8" text-anchor="middle" font-weight="normal" fill="#263442" stroke="#263442" stroke-width="0.28" textLength="45.0" lengthAdjust="spacingAndGlyphs" >Reception Hall</text>
<text x="153.0" y="356.7" font-size="8.8" text-anchor="middle" font-weight="normal" fill="#263442" stroke="#263442" stroke-width="0.28" textLength="8.8" lengthAdjust="spacingAndGlyphs" >HP</text>
<text x="163.5" y="377.7" font-size="8.8" text-anchor="middle" font-weight="normal" fill="#263442" stroke="#263442" stroke-width="0.28" textLength="13.7" lengthAdjust="spacingAndGlyphs" >Bath</text>
<text x="134.0" y="385.4" font-size="8.8" text-anchor="middle" font-weight="normal" fill="#263442" stroke="#263442" stroke-width="0.28" textLength="10.3" lengthAdjust="spacingAndGlyphs" >Ens</text>
<text x="96.2" y="393.9" font-size="8.8" text-anchor="middle" font-weight="normal" fill="#263442" stroke="#263442" stroke-width="0.28" textLength="41.0" lengthAdjust="spacingAndGlyphs" >Principal Bed</text>
<text x="201.1" y="367.4" font-size="8.8" text-anchor="middle" font-weight="normal" fill="#263442" stroke="#263442" stroke-width="0.28" textLength="18.0" lengthAdjust="spacingAndGlyphs" >Bed 2</text>
<text x="280.3" y="324.6" font-size="8.8" text-anchor="middle" font-weight="normal" fill="#263442" stroke="#263442" stroke-width="0.28" textLength="25.7" lengthAdjust="spacingAndGlyphs" >External</text>
<text x="280.6" y="333.9" font-size="8.8" text-anchor="middle" font-weight="normal" fill="#263442" stroke="#263442" stroke-width="0.28" textLength="27.9" lengthAdjust="spacingAndGlyphs" >Walkway</text>
<text x="446.2" y="162.0" font-size="8.8" text-anchor="middle" font-weight="normal" fill="#263442" stroke="#263442" stroke-width="0.28" textLength="32.2" lengthAdjust="spacingAndGlyphs" >River View</text>
<text x="446.2" y="171.9" font-size="8.8" text-anchor="middle" font-weight="normal" fill="#263442" stroke="#263442" stroke-width="0.28" textLength="24.6" lengthAdjust="spacingAndGlyphs" >Balcony</text>
<text x="586.0" y="163.2" font-size="8.8" text-anchor="middle" font-weight="normal" fill="#263442" stroke="#263442" stroke-width="0.28" textLength="32.2" lengthAdjust="spacingAndGlyphs" >River View</text>
<text x="586.0" y="172.6" font-size="8.8" text-anchor="middle" font-weight="normal" fill="#263442" stroke="#263442" stroke-width="0.28" textLength="24.6" lengthAdjust="spacingAndGlyphs" >Balcony</text>
<text x="586.7" y="226.6" font-size="8.8" text-anchor="middle" font-weight="normal" fill="#263442" stroke="#263442" stroke-width="0.28" textLength="17.3" lengthAdjust="spacingAndGlyphs" >Living</text>
<text x="588.1" y="274.1" font-size="8.8" text-anchor="middle" font-weight="normal" fill="#263442" stroke="#263442" stroke-width="0.28" textLength="19.5" lengthAdjust="spacingAndGlyphs" >Dining</text>
<text x="507.0" y="214.2" font-size="8.8" text-anchor="middle" font-weight="normal" fill="#263442" stroke="#263442" stroke-width="0.28" textLength="26.6" lengthAdjust="spacingAndGlyphs" >Principal</text>
<text x="507.1" y="223.5" font-size="8.8" text-anchor="middle" font-weight="normal" fill="#263442" stroke="#263442" stroke-width="0.28" textLength="11.3" lengthAdjust="spacingAndGlyphs" >Bed</text>
<text x="447.6" y="198.4" font-size="8.8" text-anchor="middle" font-weight="normal" fill="#263442" stroke="#263442" stroke-width="0.28" textLength="17.6" lengthAdjust="spacingAndGlyphs" >Bed 2</text>
<text x="381.9" y="178.6" font-size="8.8" text-anchor="middle" font-weight="normal" fill="#263442" stroke="#263442" stroke-width="0.28" textLength="17.6" lengthAdjust="spacingAndGlyphs" >Living</text>
<text x="391.0" y="258.5" font-size="8.8" text-anchor="middle" font-weight="normal" fill="#263442" stroke="#263442" stroke-width="0.28" textLength="20.0" lengthAdjust="spacingAndGlyphs" >Dining</text>
<text x="516.9" y="249.8" font-size="8.8" text-anchor="middle" font-weight="normal" fill="#263442" stroke="#263442" stroke-width="0.28" textLength="10.5" lengthAdjust="spacingAndGlyphs" >Ens</text>
<text x="510.0" y="289.7" font-size="8.8" text-anchor="middle" font-weight="normal" fill="#263442" stroke="#263442" stroke-width="0.28" textLength="14.0" lengthAdjust="spacingAndGlyphs" >Bath</text>
<text x="449.7" y="265.2" font-size="8.8" text-anchor="middle" font-weight="normal" fill="#263442" stroke="#263442" stroke-width="0.28" textLength="31.0" lengthAdjust="spacingAndGlyphs" >Reception</text>
<text x="449.6" y="274.6" font-size="8.8" text-anchor="middle" font-weight="normal" fill="#263442" stroke="#263442" stroke-width="0.28" textLength="12.2" lengthAdjust="spacingAndGlyphs" >Hall</text>
<text x="467.7" y="300.3" font-size="8.8" text-anchor="middle" font-weight="normal" fill="#263442" stroke="#263442" stroke-width="0.28" textLength="20.7" lengthAdjust="spacingAndGlyphs" >Cloaks</text>
<text x="390.2" y="285.6" font-size="8.8" text-anchor="middle" font-weight="normal" fill="#263442" stroke="#263442" stroke-width="0.28" textLength="23.1" lengthAdjust="spacingAndGlyphs" >Kitchen</text>
<text x="600.9" y="318.0" font-size="8.8" text-anchor="middle" font-weight="normal" fill="#263442" stroke="#263442" stroke-width="0.28" textLength="23.0" lengthAdjust="spacingAndGlyphs" >Kitchen</text>
<text x="502.7" y="316.5" font-size="8.8" text-anchor="middle" font-weight="normal" fill="#263442" stroke="#263442" stroke-width="0.28" textLength="20.7" lengthAdjust="spacingAndGlyphs" >Cloaks</text>
<text x="518.8" y="334.5" font-size="8.8" text-anchor="middle" font-weight="normal" fill="#263442" stroke="#263442" stroke-width="0.28" textLength="45.0" lengthAdjust="spacingAndGlyphs" >Reception Hall</text>
<text x="526.0" y="387.1" font-size="8.8" text-anchor="middle" font-weight="normal" fill="#263442" stroke="#263442" stroke-width="0.28" textLength="13.7" lengthAdjust="spacingAndGlyphs" >Bath</text>
<text x="563.2" y="392.6" font-size="8.8" text-anchor="middle" font-weight="normal" fill="#263442" stroke="#263442" stroke-width="0.28" textLength="10.3" lengthAdjust="spacingAndGlyphs" >Ens</text>
<text x="597.5" y="393.0" font-size="8.8" text-anchor="middle" font-weight="normal" fill="#263442" stroke="#263442" stroke-width="0.28" textLength="41.0" lengthAdjust="spacingAndGlyphs" >Principal Bed</text>
<text x="491.6" y="367.4" font-size="8.8" text-anchor="middle" font-weight="normal" fill="#263442" stroke="#263442" stroke-width="0.28" textLength="18.0" lengthAdjust="spacingAndGlyphs" >Bed 2</text>
<text x="411.5" y="324.5" font-size="8.8" text-anchor="middle" font-weight="normal" fill="#263442" stroke="#263442" stroke-width="0.28" textLength="25.7" lengthAdjust="spacingAndGlyphs" >External</text>
<text x="411.3" y="334.2" font-size="8.8" text-anchor="middle" font-weight="normal" fill="#263442" stroke="#263442" stroke-width="0.28" textLength="27.9" lengthAdjust="spacingAndGlyphs" >Walkway</text>
<text x="345.6" y="337.2" font-size="8.8" text-anchor="middle" font-weight="normal" fill="#263442" stroke="#263442" stroke-width="0.28" textLength="35" lengthAdjust="spacingAndGlyphs" >Communal</text>
<text x="345.6" y="345.8" font-size="8.8" text-anchor="middle" font-weight="normal" fill="#263442" stroke="#263442" stroke-width="0.28" textLength="18.8" lengthAdjust="spacingAndGlyphs" >Lobby</text>
<text x="347.1" y="374.3" font-size="8.8" text-anchor="middle" font-weight="normal" fill="#222" stroke="#222" stroke-width="0.28" textLength="9.1" lengthAdjust="spacingAndGlyphs" >Lift</text>
</g>
<g id="titles">
<text x="196.2" y="135" font-size="11.4" fill="#2d2d2f"><tspan font-weight="bold" stroke="#2d2d2f" stroke-width="0.35" textLength="68.3" lengthAdjust="spacingAndGlyphs">APARTMENT</tspan></text>
<text x="268.8" y="135" font-size="11.4" fill="#3a3a3c" textLength="35" lengthAdjust="spacingAndGlyphs">TYPE B</text>
<text x="388" y="135" font-size="11.4" fill="#2d2d2f"><tspan font-weight="bold" stroke="#2d2d2f" stroke-width="0.35" textLength="68.3" lengthAdjust="spacingAndGlyphs">APARTMENT</tspan></text>
<text x="460.5" y="135" font-size="11.4" fill="#3a3a3c" textLength="35" lengthAdjust="spacingAndGlyphs">TYPE B</text>
<g transform="translate(46.4,415.9) rotate(-90)"><text x="0" y="0" font-size="11.5" fill="#2d2d2f" font-weight="bold" stroke="#2d2d2f" stroke-width="0.35" textLength="66.7" lengthAdjust="spacingAndGlyphs">APARTMENT</text><text x="71.2" y="0" font-size="11.5" fill="#3a3a3c" textLength="37.4" lengthAdjust="spacingAndGlyphs">TYPE A</text></g>
<g transform="translate(655.2,415.3) rotate(-90)"><text x="0" y="0" font-size="11.5" fill="#2d2d2f" font-weight="bold" stroke="#2d2d2f" stroke-width="0.35" textLength="66.7" lengthAdjust="spacingAndGlyphs">APARTMENT</text><text x="71.2" y="0" font-size="11.5" fill="#3a3a3c" textLength="37.4" lengthAdjust="spacingAndGlyphs">TYPE A</text></g>
<text x="350" y="512.9" font-size="4.9" font-style="italic" text-anchor="middle" fill="#2a2a2a" stroke="#2a2a2a" stroke-width="0.12" textLength="55.8" lengthAdjust="spacingAndGlyphs">Floor plans are not to scale</text>
</g>
</svg>
</body></html>
